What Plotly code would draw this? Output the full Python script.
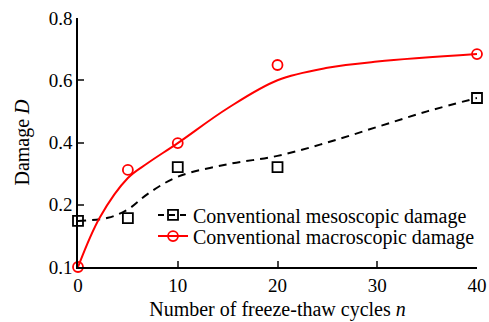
import plotly.graph_objects as go

# Measured data
n_pts = [0, 5, 10, 20, 40]
meso_pts = [0.148, 0.157, 0.321, 0.321, 0.543]
macro_pts = [0.0, 0.312, 0.398, 0.649, 0.684]

# Fit curves
n_fit_meso = [0, 3, 5, 7, 10, 15, 20, 25, 30, 35, 40]
meso_fit = [0.148, 0.158, 0.185, 0.235, 0.29, 0.33, 0.357, 0.40, 0.45, 0.50, 0.543]
n_fit_macro = [0, 2.2, 5, 7, 10, 15, 20, 25, 30, 40]
macro_fit = [0.0, 0.16, 0.286, 0.334, 0.398, 0.51, 0.60, 0.64, 0.66, 0.684]

y_tickvals = [0.0, 0.2, 0.4, 0.6, 0.8]
y_ticktext = ["0.1", "0.2", "0.4", "0.6", "0.8"]
x_tickvals = [0, 10, 20, 30, 40]

FONT = "Liberation Serif"

fig = go.Figure()
fig.add_trace(go.Scatter(x=n_fit_meso, y=meso_fit, mode="lines", line=dict(color="black", width=2, dash="8px,6px", shape="spline"), showlegend=False))
fig.add_trace(go.Scatter(x=n_fit_macro, y=macro_fit, mode="lines", line=dict(color="red", width=2, shape="spline"), showlegend=False))
fig.add_trace(go.Scatter(x=n_pts, y=meso_pts, mode="markers", marker=dict(symbol="square-open", size=10, color="black", line=dict(width=1.8)), showlegend=False, cliponaxis=False))
fig.add_trace(go.Scatter(x=n_pts, y=macro_pts, mode="markers", marker=dict(symbol="circle-open", size=10, color="red", line=dict(width=1.8)), showlegend=False, cliponaxis=False))
# legend entries
fig.add_trace(go.Scatter(x=[None], y=[None], mode="lines+markers", name="Conventional mesoscopic damage",
                         legend="legend",
                         line=dict(color="black", width=2, dash="6px,5px"),
                         marker=dict(symbol="square-open", size=10, color="black", line=dict(width=1.8))))
fig.add_trace(go.Scatter(x=[None], y=[None], mode="lines+markers", name="Conventional macroscopic damage",
                         legend="legend2",
                         line=dict(color="red", width=2),
                         marker=dict(symbol="circle-open", size=10, color="red", line=dict(width=1.8))))

leg_common = dict(xanchor="left", yanchor="middle", bgcolor="rgba(0,0,0,0)",
                  font=dict(family=FONT, size=20), itemwidth=30)
fig.update_layout(
    width=489, height=322,
    margin=dict(l=78, r=12, t=18, b=55, autoexpand=False),
    paper_bgcolor="white", plot_bgcolor="white",
    font=dict(family=FONT, size=20, color="black"),
    legend=dict(x=0.188, y=0.209, **leg_common),
    legend2=dict(x=0.188, y=0.124, **leg_common),
    showlegend=True,
)
fig.update_xaxes(range=[0, 40], tickvals=x_tickvals, ticks="inside", ticklen=6, tickwidth=1.5,
                 showline=True, linecolor="black", linewidth=1.5, showgrid=False, zeroline=False,
                 automargin=False,
                 title=dict(text="Number of freeze-thaw cycles <i>n</i>", font=dict(family=FONT, size=20), standoff=7),
                 tickfont=dict(family=FONT, size=19))
fig.update_yaxes(range=[0, 0.8], tickvals=y_tickvals, ticktext=y_ticktext, ticks="inside", ticklen=6, tickwidth=1.5,
                 showline=True, linecolor="black", linewidth=1.5, showgrid=False, zeroline=False,
                 automargin=False,
                 title=dict(text="Damage <i>D</i>", font=dict(family=FONT, size=20), standoff=14),
                 tickfont=dict(family=FONT, size=19))

fig.write_html("out.html")
